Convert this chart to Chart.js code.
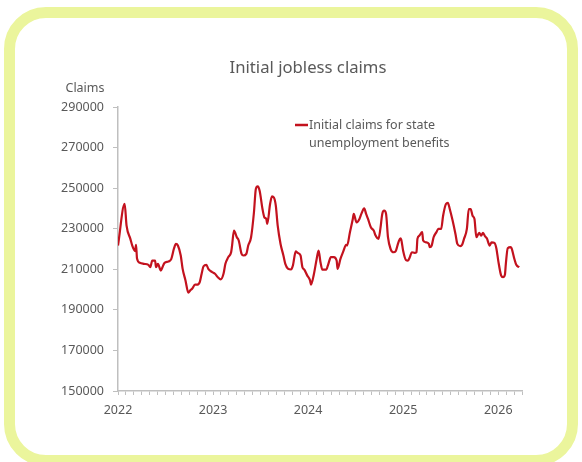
<!DOCTYPE html>
<html>
<head>
<meta charset="utf-8">
<script src="https://cdn.jsdelivr.net/npm/chart.js@4/dist/chart.umd.min.js"></script>
<style>
  html, body { margin: 0; padding: 0; background: #fff; }
  body { width: 582px; height: 462px; position: relative; overflow: hidden; }
  .frame {
    position: absolute; left: 4px; top: 7px; width: 552px; height: 437px;
    border: 11px solid #ebf59c; border-radius: 42px; background: #fff;
  }
  #chart { position: absolute; left: 0; top: 0; }
</style>
</head>
<body>
<div class="frame"></div>
<canvas id="chart" width="582" height="462"></canvas>
<script>
// weekly points, x as decimal year
const years = [
  2022.00, 2022.07, 2022.09, 2022.13, 2022.15, 2022.18, 2022.19, 2022.20, 2022.23, 2022.27,
  2022.32, 2022.34, 2022.36, 2022.39, 2022.40, 2022.42, 2022.45, 2022.46, 2022.49, 2022.53,
  2022.56, 2022.59, 2022.61, 2022.63, 2022.66, 2022.68, 2022.71, 2022.74, 2022.76, 2022.78,
  2022.81, 2022.83, 2022.86, 2022.88, 2022.90, 2022.93, 2022.95, 2022.99, 2023.02, 2023.05,
  2023.08, 2023.11, 2023.13, 2023.16, 2023.19, 2023.20, 2023.22, 2023.25, 2023.27, 2023.30,
  2023.32, 2023.35, 2023.37, 2023.40, 2023.43, 2023.45, 2023.47, 2023.49, 2023.52, 2023.54,
  2023.56, 2023.57, 2023.60, 2023.62, 2023.64, 2023.66, 2023.68, 2023.71, 2023.74, 2023.76,
  2023.79, 2023.82, 2023.84, 2023.87, 2023.89, 2023.92, 2023.94, 2023.96, 2023.99, 2024.02,
  2024.03, 2024.06, 2024.09, 2024.11, 2024.13, 2024.15, 2024.19, 2024.21, 2024.24, 2024.27,
  2024.30, 2024.31, 2024.34, 2024.37, 2024.40, 2024.41, 2024.44, 2024.47, 2024.48, 2024.51,
  2024.54, 2024.56, 2024.59, 2024.61, 2024.63, 2024.66, 2024.69, 2024.71, 2024.74, 2024.76,
  2024.78, 2024.80, 2024.82, 2024.84, 2024.87, 2024.90, 2024.92, 2024.95, 2024.97, 2024.98,
  2025.00, 2025.03, 2025.05, 2025.07, 2025.09, 2025.12, 2025.14, 2025.15, 2025.17, 2025.20,
  2025.21, 2025.24, 2025.27, 2025.28, 2025.30, 2025.32, 2025.35, 2025.37, 2025.40, 2025.42,
  2025.45, 2025.47, 2025.49, 2025.52, 2025.55, 2025.57, 2025.60, 2025.62, 2025.64, 2025.67,
  2025.69, 2025.71, 2025.73, 2025.75, 2025.77, 2025.80, 2025.82, 2025.84, 2025.86, 2025.88,
  2025.91, 2025.93, 2025.96, 2025.98, 2026.00, 2026.03, 2026.05, 2026.07, 2026.08, 2026.10,
  2026.13, 2026.14, 2026.17, 2026.19, 2026.22
];
const claims = [
  221700, 242200, 231500, 225000, 221700, 219000, 222000, 215300, 213200, 212700,
  212200, 211000, 214300, 214300, 211000, 212700, 209400, 210200, 213200, 213800,
  215000, 220400, 222500, 221700, 216800, 210200, 204500, 198500, 199600, 200400,
  202400, 202400, 203700, 207800, 211500, 212200, 210200, 208600, 207800, 206100,
  205000, 207800, 212700, 216000, 218400, 221700, 229100, 225800, 224200, 217600,
  216800, 217600, 221700, 225800, 238000, 249600, 250900, 248700, 239700, 235600,
  234800, 232400, 242200, 245900, 245400, 241400, 231500, 222500, 216800, 212700,
  210200, 209900, 211900, 218800, 218100, 216800, 211000, 209800, 207000, 204500,
  202400, 207400, 215100, 219200, 213500, 209800, 209800, 212200, 216000, 216000,
  214300, 210200, 215100, 218800, 222100, 221700, 228300, 234800, 237300, 233100,
  234800, 237300, 240000, 237300, 234800, 230700, 229100, 226600, 225000, 229900,
  237300, 238900, 237300, 225800, 219700, 218400, 218800, 223300, 225300, 224600,
  219000, 214500, 214300, 216000, 218400, 218100, 218400, 225000, 226600, 228300,
  224200, 223300, 222500, 220900, 221700, 225800, 228300, 229900, 229900, 236400,
  242200, 242700, 239700, 234000, 227400, 222500, 221400, 222100, 225000, 229900,
  239700, 239700, 236400, 234800, 225800, 228000, 226600, 228000, 226300, 225300,
  221700, 223300, 223000, 220400, 214300, 207000, 206100, 207300, 212700, 220400,
  220900, 220400, 215100, 212200, 211000
];
const seriesLabel = ['Initial claims for state', 'unemployment benefits'];
const yTicks = [150000, 170000, 190000, 210000, 230000, 250000, 270000, 290000];
const yearTicks = [2022, 2023, 2024, 2025, 2026];

const grey = '#595959';
const axisGrey = '#bfbfbf';
const lineRed = '#c3121e';
const font = '"Noto Sans", sans-serif';

// title, y-axis caption and two-line legend drawn on the canvas
const extras = {
  id: 'extras',
  afterDraw(chart) {
    const c = chart.ctx;
    c.save();
    c.fillStyle = grey;
    c.textBaseline = 'middle';
    c.textAlign = 'center';
    c.font = '16.7px ' + font;
    c.fillText('Initial jobless claims', 308, 68);

    c.font = '12.5px ' + font;
    c.fillText('Claims', 85, 88);

    c.strokeStyle = lineRed;
    c.lineWidth = 2.5;
    c.beginPath();
    c.moveTo(295, 125);
    c.lineTo(308, 125);
    c.stroke();
    c.textAlign = 'left';
    c.fillText(seriesLabel[0], 309, 125);
    c.fillText(seriesLabel[1], 309, 143);
    c.restore();
  }
};

new Chart(document.getElementById('chart'), {
  type: 'line',
  data: {
    datasets: [{
      label: seriesLabel.join(' '),
      data: years.map((x, i) => ({ x, y: claims[i] })),
      borderColor: lineRed,
      borderWidth: 2.2,
      pointRadius: 0,
      cubicInterpolationMode: 'monotone',
      fill: false
    }]
  },
  options: {
    responsive: false,
    animation: false,
    events: [],
    layout: { padding: { left: 0, right: 60, top: 107, bottom: 41 } },
    plugins: {
      legend: { display: false },
      tooltip: { enabled: false },
      title: { display: false }
    },
    scales: {
      x: {
        type: 'linear',
        min: 2022,
        max: 2026.25,
        afterBuildTicks(axis) {
          const t = [];
          for (let m = 0; m <= 51; m++) t.push({ value: 2022 + m / 12 });
          axis.ticks = t;
        },
        afterFit(axis) { axis.height = 30; },
        border: { color: axisGrey, width: 1.5 },
        grid: { drawOnChartArea: false, color: axisGrey, tickLength: 4 },
        ticks: {
          autoSkip: false,
          maxRotation: 0,
          padding: 8,
          color: grey,
          font: { family: font, size: 12.5 },
          callback(v) {
            const r = Math.round(v);
            return Math.abs(v - r) < 1e-6 && yearTicks.includes(r) ? String(r) : '';
          }
        }
      },
      y: {
        min: yTicks[0],
        max: yTicks[yTicks.length - 1],
        afterBuildTicks(axis) { axis.ticks = yTicks.map(v => ({ value: v })); },
        afterFit(axis) { axis.width = 118; },
        border: { color: axisGrey, width: 1.5 },
        grid: { drawOnChartArea: false, color: axisGrey, tickLength: 5 },
        ticks: {
          padding: 9,
          color: grey,
          font: { family: font, size: 12.5 },
          callback: v => String(v)
        }
      }
    }
  },
  plugins: [extras]
});
</script>
</body>
</html>
